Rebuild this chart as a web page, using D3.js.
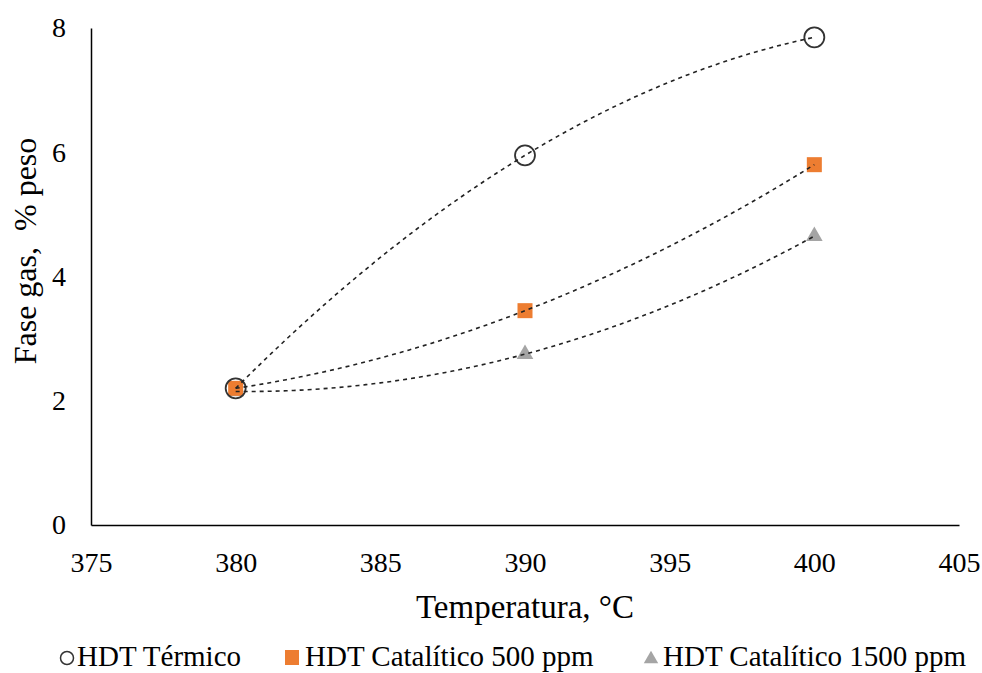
<!DOCTYPE html>
<html>
<head>
<meta charset="utf-8">
<script src="https://cdn.jsdelivr.net/npm/d3@7"></script>
<style>
  body { margin: 0; background: #fff; }
  svg text { font-family: "Liberation Serif", "Times New Roman", serif; fill: #000; }
</style>
</head>
<body>
<div id="chart"></div>
<script>
// datos
const temperaturas = [380, 390, 400];
const termico = [2.2, 5.95, 7.85];
const cat500 = [2.2, 3.45, 5.8];
const cat1500 = [2.15, 2.75, 4.65];
const xTicks = [375, 380, 385, 390, 395, 400, 405];
const yTicks = [0, 2, 4, 6, 8];
const nombres = ["HDT Térmico", "HDT Catalítico 500 ppm", "HDT Catalítico 1500 ppm"];

const WIDTH = 982;
const HEIGHT = 673;
const MARGIN = { top: 28, bottom: 148, left: 91, right: 23 };

const svg = d3.select("#chart").append("svg")
  .attr("width", WIDTH).attr("height", HEIGHT);

const x = d3.scaleLinear().domain([375, 405]).range([MARGIN.left, WIDTH - MARGIN.right]);
const y = d3.scaleLinear().domain([0, 8]).range([HEIGHT - MARGIN.bottom, MARGIN.top]);

// ejes
const yAxis = svg.append("g")
  .attr("transform", `translate(${MARGIN.left},0)`)
  .call(d3.axisLeft(y).tickValues(yTicks).tickSize(0).tickPadding(25));
yAxis.select(".domain").attr("stroke", "#000").attr("stroke-width", 1.5);
yAxis.selectAll("text").attr("font-size", 28);

const xAxis = svg.append("g")
  .attr("transform", `translate(0,${HEIGHT - MARGIN.bottom})`)
  .call(d3.axisBottom(x).tickValues(xTicks).tickSize(0));
xAxis.select(".domain").attr("stroke", "#000").attr("stroke-width", 1.5);
xAxis.selectAll("text").attr("font-size", 28).attr("y", 47).attr("dy", 0);

// titulos de ejes
svg.append("text")
  .attr("x", 525)
  .attr("y", 618)
  .attr("text-anchor", "middle")
  .attr("font-size", 33)
  .text("Temperatura, °C");

svg.append("text")
  .attr("transform", "translate(36,251) rotate(-90)")
  .attr("text-anchor", "middle")
  .attr("font-size", 32)
  .style("white-space", "pre")
  .text("Fase gas,  % peso");

// linea de tendencia polinomica de orden 2 (como en Excel)
function ajusteCuadratico(xs, ys) {
  const [x0, x1, x2] = xs, [y0, y1, y2] = ys;
  return t =>
    y0 * (t - x1) * (t - x2) / ((x0 - x1) * (x0 - x2)) +
    y1 * (t - x0) * (t - x2) / ((x1 - x0) * (x1 - x2)) +
    y2 * (t - x0) * (t - x1) / ((x2 - x0) * (x2 - x1));
}

const series = [
  { nombre: nombres[0], valores: termico },
  { nombre: nombres[1], valores: cat500 },
  { nombre: nombres[2], valores: cat1500 },
];

const line = d3.line().x(d => x(d[0])).y(d => y(d[1]));
const muestras = d3.range(380, 400.01, 0.25);

// marcadores
const pts = s => temperaturas.map((t, i) => [t, s.valores[i]]);

svg.append("g").selectAll("path")
  .data(pts(series[2]))
  .join("path")
  .attr("transform", d => `translate(${x(d[0])},${y(d[1])})`)
  .attr("d", d3.symbol(d3.symbolTriangle, 120))
  .attr("fill", "#a5a5a5");

svg.append("g").selectAll("rect")
  .data(pts(series[1]))
  .join("rect")
  .attr("x", d => x(d[0]) - 7.5)
  .attr("y", d => y(d[1]) - 7.5)
  .attr("width", 15).attr("height", 15)
  .attr("fill", "#ed7d31");

svg.append("g").selectAll("circle")
  .data(pts(series[0]))
  .join("circle")
  .attr("cx", d => x(d[0]))
  .attr("cy", d => y(d[1]))
  .attr("r", 10)
  .attr("fill", "none")
  .attr("stroke", "#333")
  .attr("stroke-width", 1.8);

// las lineas de tendencia van por encima de los marcadores
svg.append("g").selectAll("path")
  .data(series)
  .join("path")
  .attr("d", s => {
    const f = ajusteCuadratico(temperaturas, s.valores);
    return line(muestras.map(t => [t, f(t)]));
  })
  .attr("fill", "none")
  .attr("stroke", "#222")
  .attr("stroke-width", 1.6)
  .attr("stroke-dasharray", "4,4");

// leyenda
const leyenda = svg.append("g").attr("transform", "translate(0,658)");
const posLeyenda = [67, 292, 651];

leyenda.append("circle").attr("cx", posLeyenda[0]).attr("cy", 0).attr("r", 6.5)
  .attr("fill", "none").attr("stroke", "#333").attr("stroke-width", 1.5);
leyenda.append("rect").attr("x", posLeyenda[1] - 7).attr("y", -8)
  .attr("width", 14).attr("height", 15).attr("fill", "#ed7d31");
leyenda.append("path").attr("transform", `translate(${posLeyenda[2]},1)`)
  .attr("d", d3.symbol(d3.symbolTriangle, 90)).attr("fill", "#a5a5a5");

leyenda.selectAll("text")
  .data(nombres)
  .join("text")
  .attr("x", (d, i) => posLeyenda[i] + [10, 13, 12][i])
  .attr("y", 8)
  .attr("font-size", 29)
  .text(d => d);
</script>
</body>
</html>
